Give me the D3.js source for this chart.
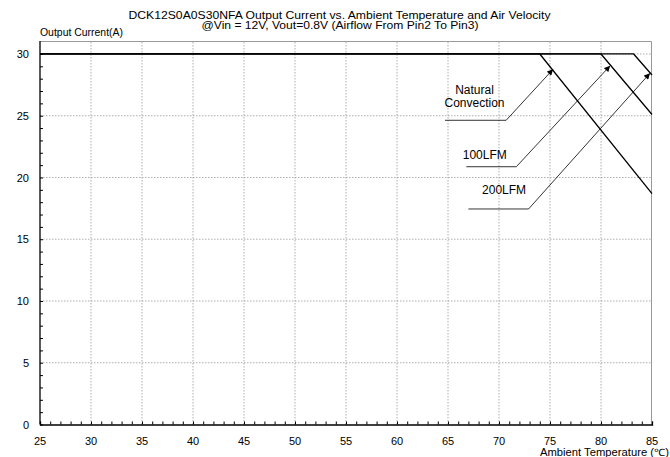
<!DOCTYPE html>
<meta charset="utf-8">
<style>
	body { margin: 0; background: #fff; }
	svg text { font-family: "Liberation Sans", Arial, sans-serif; fill: #000; }
	.grid line { stroke: #999; stroke-width: 0.8px; stroke-dasharray: 1.5,1.5; }
	.frame { stroke: #999; stroke-width: 1px; fill: none; }
	.curve { fill: none; stroke: #000; stroke-width: 1.3px; }
	.leader { fill: none; stroke: #000; stroke-width: 0.8px; }
</style>
<svg width="670" height="457"></svg>
<script src="https://d3js.org/d3.v7.min.js"></script>
<script>
	// ---------------------------------------------------------------------
	// data
	// ---------------------------------------------------------------------
	var xTicks = [25, 30, 35, 40, 45, 50, 55, 60, 65, 70, 75, 80, 85];
	var yTicks = [0, 5, 10, 15, 20, 25, 30];

	// derating curves: [ambient temp, output current]
	var naturalConv = [[25, 30], [74.0, 30], [85, 18.7]];
	var lfm100 = [[25, 30], [80.0, 30], [85, 25.1]];
	var lfm200 = [[25, 30], [83.2, 30], [85, 28.3]];

	// callouts: leader path (start, elbow, arrow tip) and label lines
	var callouts = [
		{ lines: ["Natural", "Convection"], at: [67.6, 27.1],
		  path: [[64.7, 24.63], [70.7, 24.63], [75.3, 28.76]] },
		{ lines: ["100LFM"], at: [68.6, 21.82],
		  path: [[66.8, 20.87], [71.7, 20.87], [80.9, 29.05]] },
		{ lines: ["200LFM"], at: [70.5, 18.99],
		  path: [[67.0, 17.45], [72.9, 17.45], [84.8, 28.44]] }
	];

	// ---------------------------------------------------------------------
	// layout
	// ---------------------------------------------------------------------
	var margin = {top: 41, left: 40, right: 18, bottom: 32.5};
	var W = 670, H = 457;
	var svg = d3.select("svg");

	var x = d3.scaleLinear().domain([25, 85]).range([margin.left, W - margin.right]);
	var y = d3.scaleLinear().domain([0, 31.05]).range([H - margin.bottom, margin.top]);

	// grid
	var grid = svg.append("g").attr("class", "grid");
	grid.selectAll("line.v")
		.data(xTicks.slice(1, -1))
		.enter().append("line")
		.attr("x1", function(d) { return x(d); })
		.attr("x2", function(d) { return x(d); })
		.attr("y1", y(0)).attr("y2", margin.top);
	grid.selectAll("line.h")
		.data(yTicks.slice(1))
		.enter().append("line")
		.attr("class", "h")
		.attr("x1", x(25)).attr("x2", x(85))
		.attr("y1", function(d) { return y(d); })
		.attr("y2", function(d) { return y(d); });

	// top / right frame
	svg.append("path").attr("class", "frame")
		.attr("d", "M" + x(25) + "," + (margin.top + 0.5) + "H" + (x(85) - 0.5) + "V" + y(0));

	// axes (black), minor ticks inward
	var xAxis = d3.axisTop(x).tickValues(d3.range(25, 86, 1)).tickSize(3).tickFormat("");
	svg.append("g").attr("transform", "translate(0," + y(0) + ")")
		.call(xAxis)
		.call(function(g) { g.select(".domain").attr("stroke-width", 1.3); });
	var yAxis = d3.axisRight(y).tickValues(d3.range(0, 31, 1)).tickSize(3).tickFormat("");
	svg.append("g").attr("transform", "translate(" + x(25) + ",0)")
		.call(yAxis)
		.call(function(g) {
			g.select(".domain").attr("stroke-width", 1.3)
				.attr("d", "M0," + margin.top + "V" + y(0));
		});

	// tick labels
	svg.append("g").selectAll("text")
		.data(xTicks)
		.enter().append("text")
		.attr("x", function(d) { return x(d); })
		.attr("y", 445)
		.attr("text-anchor", "middle")
		.style("font-size", "11px")
		.text(function(d) { return d; });
	svg.append("g").selectAll("text")
		.data(yTicks)
		.enter().append("text")
		.attr("x", 29)
		.attr("y", function(d) { return y(d); })
		.attr("dy", "0.38em")
		.attr("text-anchor", "end")
		.style("font-size", "11px")
		.text(function(d) { return d; });

	// curves
	var line = d3.line()
		.x(function(d) { return x(d[0]); })
		.y(function(d) { return y(d[1]); });
	[naturalConv, lfm100, lfm200].forEach(function(s) {
		svg.append("path").attr("class", "curve").attr("d", line(s));
	});

	// arrow marker
	svg.append("defs").append("marker")
		.attr("id", "arrow")
		.attr("viewBox", "0 0 10 10")
		.attr("refX", 10).attr("refY", 5)
		.attr("markerWidth", 7).attr("markerHeight", 6)
		.attr("markerUnits", "userSpaceOnUse")
		.attr("orient", "auto")
		.append("path").attr("d", "M0,0L10,5L0,10z").attr("fill", "#000");

	// callouts
	callouts.forEach(function(c) {
		svg.append("path").attr("class", "leader")
			.attr("d", line(c.path))
			.attr("marker-end", "url(#arrow)");
		var t = svg.append("text")
			.attr("x", x(c.at[0]))
			.attr("y", y(c.at[1]))
			.attr("text-anchor", "middle")
			.style("font-size", "12px");
		c.lines.forEach(function(s, i) {
			t.append("tspan")
				.attr("x", x(c.at[0]))
				.attr("dy", i === 0 ? "0.35em" : "1.1em")
				.text(s);
		});
	});

	// titles
	svg.append("text")
		.attr("x", 339.5).attr("y", 18.5)
		.attr("text-anchor", "middle")
		.attr("textLength", 422).attr("lengthAdjust", "spacingAndGlyphs")
		.style("font-size", "10.5px")
		.text("DCK12S0A0S30NFA Output Current vs. Ambient Temperature and Air Velocity");
	svg.append("text")
		.attr("x", 340).attr("y", 29)
		.attr("text-anchor", "middle")
		.attr("textLength", 277).attr("lengthAdjust", "spacingAndGlyphs")
		.style("font-size", "10.5px")
		.text("@Vin = 12V, Vout=0.8V (Airflow From Pin2 To Pin3)");
	svg.append("text")
		.attr("x", 40).attr("y", 36)
		.attr("textLength", 83).attr("lengthAdjust", "spacingAndGlyphs")
		.style("font-size", "10px")
		.text("Output Current(A)");
	svg.append("text")
		.attr("x", 669).attr("y", 456)
		.attr("text-anchor", "end")
		.attr("textLength", 129).attr("lengthAdjust", "spacingAndGlyphs")
		.style("font-size", "10px")
		.text("Ambient Temperature (\u2103)");
</script>
